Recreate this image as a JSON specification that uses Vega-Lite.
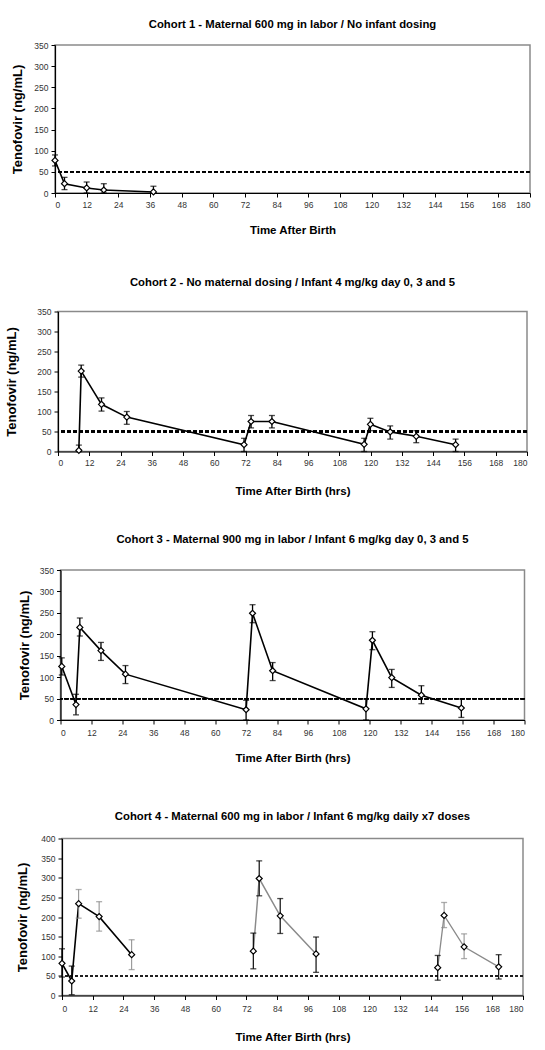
{
  "$schema": "https://vega.github.io/schema/vega-lite/v6.json",
  "background": "white",
  "padding": {"top": 18, "left": 5, "right": 4, "bottom": 4},
  "spacing": 118.5,
  "bounds": "flush",
  "center": true,
  "config": {
    "font": "Liberation Sans",
    "view": {"stroke": "#8a8a8a", "strokeWidth": 1.5},
    "axis": {"grid": false, "domainColor": "#000", "domainWidth": 1.2, "tickColor": "#000", "tickSize": 4, "labelFont": "Liberation Sans", "labelFontSize": 8.5, "labelColor": "#333", "titleFont": "Liberation Sans", "titleFontWeight": "bold", "titleColor": "#000"},
    "axisX": {"titleFontSize": 11.5, "titlePadding": 13, "labelPadding": 3},
    "axisY": {"titleFontSize": 13, "titlePadding": 4, "labelPadding": 3},
    "title": {"font": "Liberation Sans", "fontSize": 11.3, "fontWeight": "bold", "color": "#000"}
  },
  "vconcat": [
    {
      "title": {"text": "Cohort 1 - Maternal 600 mg in labor / No infant dosing", "offset": 10.3},
      "width": 475, "height": 148,
      "data": {"values": [
        {"t": 0, "v": 77, "lo": 64, "hi": 90},
        {"t": 3.6, "v": 22, "lo": 8, "hi": 37},
        {"t": 12, "v": 12, "lo": 0, "hi": 26},
        {"t": 18.5, "v": 7, "lo": 0, "hi": 22},
        {"t": 37.3, "v": 2.5, "lo": 0, "hi": 16}
      ]},
      "encoding": {
        "x": {"field": "t", "type": "quantitative", "title": "Time After Birth", "scale": {"domain": [0, 180], "nice": false}, "axis": {"values": [0,12,24,36,48,60,72,84,96,108,120,132,144,156,168,180], "titlePadding": 15.8}},
        "y": {"field": "v", "type": "quantitative", "title": "Tenofovir (ng/mL)", "scale": {"domain": [0, 350], "nice": false}, "axis": {"values": [0,50,100,150,200,250,300,350], "titlePadding": 9}}
      },
      "layer": [
        {"mark": {"type": "rule", "strokeDash": [4, 2], "strokeWidth": 1.3, "color": "#000"}, "encoding": {"y": {"datum": 50}, "x": null}},
        {"mark": {"type": "line", "color": "#000", "strokeWidth": 1.6}},
        {"mark": {"type": "rule", "color": "#000", "strokeWidth": 1.3}, "encoding": {"y": {"field": "lo", "type": "quantitative"}, "y2": {"field": "hi"}}},
        {"mark": {"type": "tick", "orient": "horizontal", "color": "#000", "size": 6, "thickness": 1.3}, "encoding": {"y": {"field": "hi", "type": "quantitative"}}},
        {"mark": {"type": "tick", "orient": "horizontal", "color": "#000", "size": 6, "thickness": 1.3}, "encoding": {"y": {"field": "lo", "type": "quantitative"}}},
        {"mark": {"type": "point", "shape": "diamond", "filled": true, "fill": "white", "stroke": "#000", "strokeWidth": 1.2, "size": 36, "opacity": 1}}
      ]
    },
    {
      "title": {"text": "Cohort 2 - No maternal dosing / Infant 4 mg/kg day 0, 3 and 5", "offset": 19.4},
      "width": 469, "height": 140,
      "data": {"values": [
        {"t": 8, "v": 3, "lo": 0, "hi": 16},
        {"t": 8.9, "v": 201, "lo": 186, "hi": 216},
        {"t": 16.7, "v": 118, "lo": 101, "hi": 134},
        {"t": 26.4, "v": 86, "lo": 68, "hi": 100},
        {"t": 71.4, "v": 17, "lo": 0, "hi": 33},
        {"t": 74.1, "v": 75, "lo": 59, "hi": 90},
        {"t": 82.1, "v": 75, "lo": 59, "hi": 90},
        {"t": 117.5, "v": 18, "lo": 0, "hi": 33},
        {"t": 119.9, "v": 68, "lo": 52, "hi": 83},
        {"t": 127.5, "v": 49, "lo": 31, "hi": 64},
        {"t": 137.5, "v": 38, "lo": 22, "hi": 52},
        {"t": 152.6, "v": 17, "lo": 0, "hi": 31}
      ]},
      "encoding": {
        "x": {"field": "t", "type": "quantitative", "title": "Time After Birth (hrs)", "scale": {"domain": [0, 180], "nice": false}, "axis": {"values": [0,12,24,36,48,60,72,84,96,108,120,132,144,156,168,180], "titlePadding": 18}},
        "y": {"field": "v", "type": "quantitative", "title": "Tenofovir (ng/mL)", "scale": {"domain": [0, 350], "nice": false}, "axis": {"values": [0,50,100,150,200,250,300,350], "titlePadding": 18}}
      },
      "layer": [
        {"mark": {"type": "rule", "strokeDash": [4, 2], "strokeWidth": 1.3, "color": "#000"}, "encoding": {"y": {"datum": 50}, "x": null}},
        {"mark": {"type": "line", "color": "#000", "strokeWidth": 1.6}},
        {"mark": {"type": "rule", "color": "#000", "strokeWidth": 1.3}, "encoding": {"y": {"field": "lo", "type": "quantitative"}, "y2": {"field": "hi"}}},
        {"mark": {"type": "tick", "orient": "horizontal", "color": "#000", "size": 6, "thickness": 1.3}, "encoding": {"y": {"field": "hi", "type": "quantitative"}}},
        {"mark": {"type": "tick", "orient": "horizontal", "color": "#000", "size": 6, "thickness": 1.3}, "encoding": {"y": {"field": "lo", "type": "quantitative"}}},
        {"mark": {"type": "point", "shape": "diamond", "filled": true, "fill": "white", "stroke": "#000", "strokeWidth": 1.2, "size": 36, "opacity": 1}}
      ]
    },
    {
      "title": {"text": "Cohort 3 - Maternal 900 mg in labor / Infant 6 mg/kg day 0, 3 and 5", "offset": 20.6},
      "width": 464, "height": 150,
      "data": {"values": [
        {"t": 0.5, "v": 125, "lo": 105, "hi": 145},
        {"t": 6, "v": 36, "lo": 12, "hi": 60},
        {"t": 7.5, "v": 216, "lo": 196, "hi": 238},
        {"t": 15.7, "v": 162, "lo": 139, "hi": 181},
        {"t": 25.2, "v": 107, "lo": 85, "hi": 127},
        {"t": 72, "v": 24, "lo": 0, "hi": 46},
        {"t": 74.5, "v": 249, "lo": 227, "hi": 269},
        {"t": 82.3, "v": 115, "lo": 92, "hi": 134},
        {"t": 118.5, "v": 26, "lo": 0, "hi": 49},
        {"t": 121, "v": 186, "lo": 164, "hi": 206},
        {"t": 128.5, "v": 99, "lo": 76, "hi": 118},
        {"t": 140, "v": 58, "lo": 38, "hi": 80},
        {"t": 155.5, "v": 28, "lo": 6, "hi": 49}
      ]},
      "encoding": {
        "x": {"field": "t", "type": "quantitative", "title": "Time After Birth (hrs)", "scale": {"domain": [0, 180], "nice": false}, "axis": {"values": [0,12,24,36,48,60,72,84,96,108,120,132,144,156,168,180], "titlePadding": 15.7, "labelPadding": 4}},
        "y": {"field": "v", "type": "quantitative", "title": "Tenofovir (ng/mL)", "scale": {"domain": [0, 350], "nice": false}, "axis": {"values": [0,50,100,150,200,250,300,350], "titlePadding": 8}}
      },
      "layer": [
        {"mark": {"type": "rule", "strokeDash": [4, 2], "strokeWidth": 1.3, "color": "#000"}, "encoding": {"y": {"datum": 50}, "x": null}},
        {"mark": {"type": "line", "color": "#000", "strokeWidth": 1.6}},
        {"mark": {"type": "rule", "color": "#000", "strokeWidth": 1.3}, "encoding": {"y": {"field": "lo", "type": "quantitative"}, "y2": {"field": "hi"}}},
        {"mark": {"type": "tick", "orient": "horizontal", "color": "#000", "size": 6, "thickness": 1.3}, "encoding": {"y": {"field": "hi", "type": "quantitative"}}},
        {"mark": {"type": "tick", "orient": "horizontal", "color": "#000", "size": 6, "thickness": 1.3}, "encoding": {"y": {"field": "lo", "type": "quantitative"}}},
        {"mark": {"type": "point", "shape": "diamond", "filled": true, "fill": "white", "stroke": "#000", "strokeWidth": 1.2, "size": 36, "opacity": 1}}
      ]
    },
    {
      "title": {"text": "Cohort 4 - Maternal 600 mg in labor / Infant 6 mg/kg daily x7 doses", "offset": 12.7},
      "width": 461, "height": 157,
      "data": {"values": [
        {"t": 0, "v": 82, "lo": 47, "hi": 119, "dose": 1, "bar": "dark"},
        {"t": 3.8, "v": 37, "lo": 2, "hi": 75, "dose": 1, "bar": "dark"},
        {"t": 6.5, "v": 234, "lo": 197, "hi": 270, "dose": 1, "bar": "light"},
        {"t": 14.5, "v": 201, "lo": 164, "hi": 239, "dose": 1, "bar": "light"},
        {"t": 27.2, "v": 104, "lo": 66, "hi": 142, "dose": 1, "bar": "light"},
        {"t": 74.7, "v": 113, "lo": 68, "hi": 159, "dose": 2, "bar": "dark"},
        {"t": 77, "v": 298, "lo": 254, "hi": 343, "dose": 2, "bar": "dark"},
        {"t": 85.2, "v": 203, "lo": 158, "hi": 247, "dose": 2, "bar": "dark"},
        {"t": 99.2, "v": 106, "lo": 59, "hi": 149, "dose": 2, "bar": "dark"},
        {"t": 146.7, "v": 71, "lo": 39, "hi": 102, "dose": 3, "bar": "dark"},
        {"t": 149.2, "v": 204, "lo": 173, "hi": 237, "dose": 3, "bar": "light"},
        {"t": 157, "v": 124, "lo": 94, "hi": 157, "dose": 3, "bar": "light"},
        {"t": 170.5, "v": 73, "lo": 42, "hi": 104, "dose": 3, "bar": "dark"}
      ]},
      "encoding": {
        "x": {"field": "t", "type": "quantitative", "title": "Time After Birth (hrs)", "scale": {"domain": [0, 180], "nice": false}, "axis": {"values": [0,12,24,36,48,60,72,84,96,108,120,132,144,156,168,180], "titlePadding": 18, "labelPadding": 5}},
        "y": {"field": "v", "type": "quantitative", "title": "Tenofovir (ng/mL)", "scale": {"domain": [0, 400], "nice": false}, "axis": {"values": [0,50,100,150,200,250,300,350,400], "titlePadding": 11}}
      },
      "layer": [
        {"mark": {"type": "rule", "strokeDash": [3, 2], "strokeWidth": 1, "color": "#222"}, "encoding": {"y": {"datum": 50}, "x": null}},
        {"mark": {"type": "line"}, "encoding": {
          "detail": {"field": "dose", "type": "nominal"},
          "color": {"field": "dose", "type": "nominal", "scale": {"domain": [1, 2, 3], "range": ["#000", "#8a8a8a", "#8a8a8a"]}, "legend": null},
          "strokeWidth": {"field": "dose", "type": "nominal", "scale": {"domain": [1, 2, 3], "range": [1.6, 1, 1]}, "legend": null}
        }},
        {"mark": {"type": "rule"}, "encoding": {"y": {"field": "lo", "type": "quantitative"}, "y2": {"field": "hi"},
          "color": {"field": "bar", "type": "nominal", "scale": {"domain": ["dark", "light"], "range": ["#000", "#777"]}, "legend": null},
          "strokeWidth": {"field": "bar", "type": "nominal", "scale": {"domain": ["dark", "light"], "range": [1.6, 1.1]}, "legend": null}}},
        {"mark": {"type": "tick", "orient": "horizontal", "size": 6, "thickness": 1.3}, "encoding": {"y": {"field": "hi", "type": "quantitative"},
          "color": {"field": "bar", "type": "nominal", "scale": {"domain": ["dark", "light"], "range": ["#000", "#777"]}, "legend": null}}},
        {"mark": {"type": "tick", "orient": "horizontal", "size": 6, "thickness": 1.3}, "encoding": {"y": {"field": "lo", "type": "quantitative"},
          "color": {"field": "bar", "type": "nominal", "scale": {"domain": ["dark", "light"], "range": ["#000", "#777"]}, "legend": null}}},
        {"mark": {"type": "point", "shape": "diamond", "filled": true, "fill": "white", "stroke": "#000", "strokeWidth": 1.2, "size": 36, "opacity": 1}}
      ]
    }
  ]
}
